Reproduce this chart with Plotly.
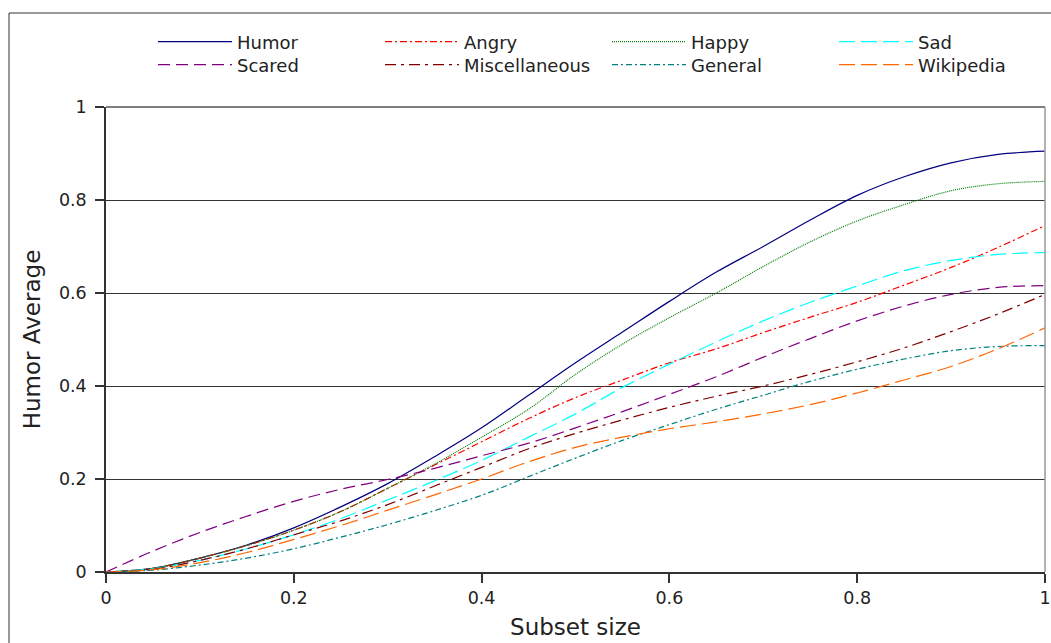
import plotly.graph_objects as go

# Subset size (x) and the humor average of each word-list subset
subset_size = [0.0, 0.05, 0.1, 0.15, 0.2, 0.25, 0.3, 0.35, 0.4, 0.45, 0.5,
               0.55, 0.6, 0.65, 0.7, 0.75, 0.8, 0.85, 0.9, 0.95, 1.0]

humor = [0.0, 0.008, 0.03, 0.058, 0.095, 0.14, 0.19, 0.248, 0.31, 0.38, 0.45,
         0.516, 0.582, 0.645, 0.70, 0.757, 0.81, 0.85, 0.88, 0.898, 0.905]
angry = [0.0, 0.008, 0.03, 0.057, 0.09, 0.13, 0.18, 0.23, 0.28, 0.33, 0.375,
         0.413, 0.45, 0.48, 0.515, 0.548, 0.58, 0.617, 0.655, 0.698, 0.745]
happy = [0.0, 0.008, 0.03, 0.057, 0.09, 0.13, 0.18, 0.232, 0.29, 0.35, 0.425,
         0.49, 0.547, 0.60, 0.657, 0.71, 0.755, 0.79, 0.82, 0.835, 0.84]
sad = [0.0, 0.007, 0.025, 0.05, 0.08, 0.115, 0.155, 0.196, 0.24, 0.29, 0.34,
       0.397, 0.447, 0.495, 0.54, 0.58, 0.615, 0.648, 0.670, 0.683, 0.687]
scared = [0.0, 0.045, 0.085, 0.12, 0.152, 0.178, 0.199, 0.223, 0.25, 0.277, 0.31,
          0.345, 0.382, 0.42, 0.462, 0.502, 0.54, 0.572, 0.597, 0.612, 0.616]
miscellaneous = [0.0, 0.006, 0.025, 0.05, 0.08, 0.11, 0.145, 0.185, 0.225, 0.265, 0.298,
                 0.327, 0.354, 0.378, 0.40, 0.425, 0.452, 0.482, 0.517, 0.555, 0.597]
general = [0.0, 0.004, 0.015, 0.03, 0.05, 0.075, 0.102, 0.132, 0.165, 0.205, 0.245,
           0.283, 0.317, 0.35, 0.38, 0.41, 0.436, 0.458, 0.476, 0.485, 0.487]
wikipedia = [0.0, 0.005, 0.02, 0.042, 0.07, 0.1, 0.133, 0.166, 0.2, 0.237, 0.268,
             0.29, 0.308, 0.323, 0.34, 0.36, 0.385, 0.413, 0.442, 0.48, 0.525]

x_ticks = [0, 0.2, 0.4, 0.6, 0.8, 1]
y_ticks = [0, 0.2, 0.4, 0.6, 0.8, 1]

# name, values, colour, dash pattern, legend row
series = [
    ("Humor", humor, "#000080", "solid", "legend"),
    ("Angry", angry, "#ff0000", "7px,3px,2px,3px", "legend"),
    ("Happy", happy, "#008000", "1px,1px", "legend"),
    ("Sad", sad, "#00ffff", "16px,6px", "legend"),
    ("Scared", scared, "#800080", "12px,6px", "legend2"),
    ("Miscellaneous", miscellaneous, "#800000", "11px,5px,3px,5px", "legend2"),
    ("General", general, "#008080", "6px,3px,2px,3px", "legend2"),
    ("Wikipedia", wikipedia, "#ff6600", "16px,6px", "legend2"),
]

FONT = "DejaVu Sans"

fig = go.Figure()
for name, vals, color, dash, leg in series:
    fig.add_trace(go.Scatter(
        x=subset_size, y=vals, name=name, mode="lines",
        line=dict(color=color, width=1.2, dash=dash, shape="spline", smoothing=1.0),
        legend=leg,
    ))

legend_common = dict(
    orientation="h", xanchor="left", yanchor="middle",
    font=dict(family=FONT, size=18, color="#222"),
    bgcolor="rgba(0,0,0,0)", entrywidth=138, entrywidthmode="pixels",
    itemwidth=74, tracegroupgap=0, itemclick=False,
)

fig.update_layout(
    width=1051, height=643,
    margin=dict(l=106, r=6, t=107, b=71, autoexpand=False),
    paper_bgcolor="white", plot_bgcolor="white",
    font=dict(family=FONT, size=17, color="#222"),
    showlegend=True,
    legend=dict(x=(153 - 106) / 939, y=(572 - 42) / 465, **legend_common),
    legend2=dict(x=(153 - 106) / 939, y=(572 - 65) / 465, **legend_common),
    xaxis=dict(
        range=[0, 1], tickvals=x_ticks, ticks="outside", ticklen=9,
        tickcolor="#333", tickwidth=1.5, showline=True, linecolor="#333",
        linewidth=1.5, showgrid=False, zeroline=False,
        tickfont=dict(family=FONT, size=17.5, color="#222"),
        title=dict(text="Subset size", font=dict(family=FONT, size=23, color="#222"),
                   standoff=12),
    ),
    yaxis=dict(
        range=[0, 1], tickvals=y_ticks, ticks="outside", ticklen=9,
        tickcolor="#333", tickwidth=1.5, showline=True, linecolor="#333",
        linewidth=1.5, showgrid=True, gridcolor="#333", gridwidth=1.2,
        zeroline=False, ticklabelstandoff=5,
        tickfont=dict(family=FONT, size=17.5, color="#222"),
        title=dict(text="Humor Average", font=dict(family=FONT, size=23, color="#222"),
                   standoff=12),
    ),
    shapes=[
        # plot-area frame on the top and right
        dict(type="line", xref="paper", yref="paper", x0=0, x1=1, y0=1, y1=1,
             line=dict(color="#555", width=1.5)),
        dict(type="line", xref="paper", yref="paper", x0=1, x1=1, y0=0, y1=1,
             line=dict(color="#999", width=1.5)),
        # outer frame around the whole figure
        dict(type="rect", xref="paper", yref="paper",
             x0=(9 - 106) / 939, x1=(1060 - 106) / 939,
             y0=(572 - 660) / 465, y1=(572 - 13) / 465,
             line=dict(color="#333", width=1)),
    ],
)

fig.write_html("out.html")
